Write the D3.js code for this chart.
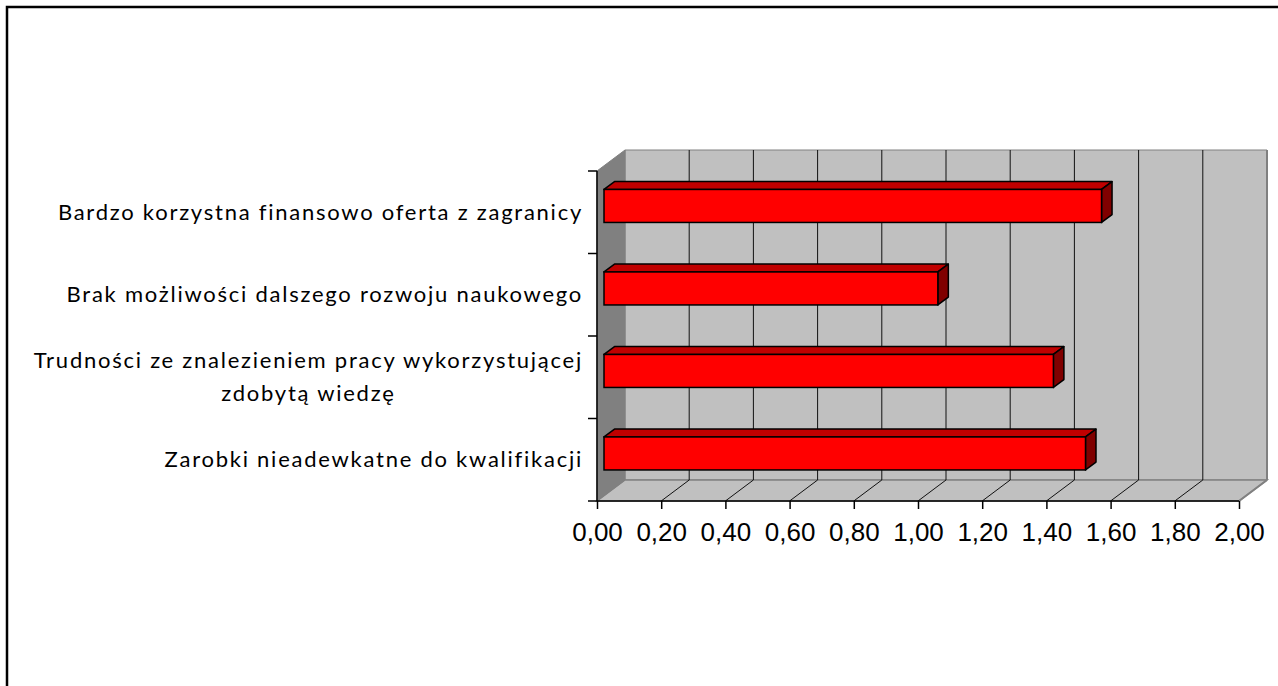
<!DOCTYPE html>
<html>
<head>
<meta charset="utf-8">
<script src="https://cdn.jsdelivr.net/npm/d3@7"></script>
<style>
  html, body { margin: 0; padding: 0; background: #fff; }
  svg { display: block; }
</style>
</head>
<body>
<div id="chart"></div>
<script>
// categories top to bottom, "\n" marks a line break in the label
var categories = [
  "Bardzo korzystna finansowo oferta z zagranicy",
  "Brak możliwości dalszego rozwoju naukowego",
  "Trudności ze znalezieniem pracy wykorzystującej\nzdobytą wiedzę",
  "Zarobki nieadewkatne do kwalifikacji"
];
var values = [1.55, 1.04, 1.40, 1.50];
var tickValues = [0, 0.2, 0.4, 0.6, 0.8, 1.0, 1.2, 1.4, 1.6, 1.8, 2.0];

var chartWidth = 1278,
    chartHeight = 686;

var svg = d3.select("#chart").append("svg")
    .attr("width", chartWidth)
    .attr("height", chartHeight);

// outer frame
svg.append("rect")
    .attr("x", 7).attr("y", 7)
    .attr("width", 1300).attr("height", 700)
    .attr("fill", "#fff")
    .attr("stroke", "#000")
    .attr("stroke-width", 2.5);

var plot = {left: 597, right: 1239, top: 171, bottom: 501},
    depth = {dx: 28, dy: -21};   // 3d depth of the walls

var x = d3.scaleLinear().domain([0, 2]).range([plot.left, plot.right]),
    y = d3.scaleBand().domain(categories).range([plot.top, plot.bottom])
          .paddingInner(0.6).paddingOuter(0.3);

var g = svg.append("g");

// back wall
g.append("polygon")
    .attr("points", [
      [x(0) + depth.dx, plot.top + depth.dy],
      [x(2) + depth.dx, plot.top + depth.dy],
      [x(2) + depth.dx, plot.bottom + depth.dy],
      [x(0) + depth.dx, plot.bottom + depth.dy]
    ].join(" "))
    .attr("fill", "#c0c0c0")
    .attr("stroke", "#808080")
    .attr("stroke-width", 1);

// floor
g.append("polygon")
    .attr("points", [
      [x(0), plot.bottom],
      [x(2), plot.bottom],
      [x(2) + depth.dx, plot.bottom + depth.dy],
      [x(0) + depth.dx, plot.bottom + depth.dy]
    ].join(" "))
    .attr("fill", "#c0c0c0")
    .attr("stroke", "#808080")
    .attr("stroke-width", 1.5);

// side wall
g.append("polygon")
    .attr("points", [
      [x(0), plot.top],
      [x(0) + depth.dx, plot.top + depth.dy],
      [x(0) + depth.dx, plot.bottom + depth.dy],
      [x(0), plot.bottom]
    ].join(" "))
    .attr("fill", "#808080")
    .attr("stroke", "#808080")
    .attr("stroke-width", 1);

// gridlines on wall and floor
var inner = tickValues.slice(1, -1);
g.selectAll(".wallgrid")
  .data(inner)
  .enter().append("line")
    .attr("class", "wallgrid")
    .attr("x1", function(d) { return x(d) + depth.dx; })
    .attr("x2", function(d) { return x(d) + depth.dx; })
    .attr("y1", plot.top + depth.dy)
    .attr("y2", plot.bottom + depth.dy)
    .attr("stroke", "#111")
    .attr("stroke-width", 1);

g.selectAll(".floorgrid")
  .data(inner)
  .enter().append("line")
    .attr("class", "floorgrid")
    .attr("x1", function(d) { return x(d); })
    .attr("x2", function(d) { return x(d) + depth.dx; })
    .attr("y1", plot.bottom)
    .attr("y2", plot.bottom + depth.dy)
    .attr("stroke", "#111")
    .attr("stroke-width", 1);

// right edges of the box
g.append("line")
    .attr("x1", x(2) + depth.dx).attr("x2", x(2) + depth.dx)
    .attr("y1", plot.top + depth.dy).attr("y2", plot.bottom + depth.dy)
    .attr("stroke", "#808080").attr("stroke-width", 2);
g.append("line")
    .attr("x1", x(2)).attr("x2", x(2) + depth.dx)
    .attr("y1", plot.bottom).attr("y2", plot.bottom + depth.dy)
    .attr("stroke", "#808080").attr("stroke-width", 2);

// bottom axis
var xAxis = d3.axisBottom(x)
    .tickValues(tickValues)
    .tickSize(8)
    .tickPadding(14)
    .tickFormat(function(d) { return d.toFixed(2).replace(".", ","); });

var ax = svg.append("g")
    .attr("transform", "translate(0," + plot.bottom + ")")
    .call(xAxis);
ax.select(".domain").attr("stroke", "#000").attr("stroke-width", 1.5)
    .attr("d", "M" + x(0) + ",0H" + x(2));
ax.selectAll(".tick line").attr("stroke", "#000").attr("stroke-width", 1.5);
ax.selectAll(".tick text")
    .attr("fill", "#000")
    .style("font-family", "'Liberation Sans', Arial, sans-serif")
    .style("font-size", "26px");

// left axis with ticks at category boundaries
var half = (y.step() - y.bandwidth()) / 2;
var bounds = categories.map(function(c) { return y(c) - half; })
    .concat([y(categories[categories.length - 1]) + y.bandwidth() + half]);

svg.append("line")
    .attr("x1", x(0)).attr("x2", x(0))
    .attr("y1", plot.top).attr("y2", plot.bottom)
    .attr("stroke", "#000").attr("stroke-width", 1.5);
svg.selectAll(".ytick")
  .data(bounds)
  .enter().append("line")
    .attr("class", "ytick")
    .attr("x1", x(0) - 9).attr("x2", x(0))
    .attr("y1", function(d) { return d; })
    .attr("y2", function(d) { return d; })
    .attr("stroke", "#000").attr("stroke-width", 1.5);

// bars (front at a quarter of the depth, 3/8 deep)
var bFront = {dx: depth.dx * 0.25, dy: depth.dy * 0.3},
    bDepth = {dx: depth.dx * 0.375, dy: depth.dy * 0.375};

var bars = svg.selectAll(".bar")
  .data(categories.map(function(c, i) { return {key: c, value: values[i]}; }))
  .enter().append("g")
    .attr("class", "bar");

function facePts(d) {
  var x0 = x(0) + bFront.dx,
      x1 = x(d.value) + bFront.dx,
      y0 = y(d.key) + bFront.dy,
      y1 = y0 + y.bandwidth();
  return {x0: x0, x1: x1, y0: y0, y1: y1};
}

bars.append("polygon")
    .attr("points", function(d) {
      var p = facePts(d);
      return [[p.x0, p.y0], [p.x1, p.y0],
              [p.x1 + bDepth.dx, p.y0 + bDepth.dy],
              [p.x0 + bDepth.dx, p.y0 + bDepth.dy]].join(" ");
    })
    .attr("fill", "#c00000")
    .attr("stroke", "#000").attr("stroke-width", 1.5)
    .attr("stroke-linejoin", "round");

bars.append("polygon")
    .attr("points", function(d) {
      var p = facePts(d);
      return [[p.x1, p.y0], [p.x1 + bDepth.dx, p.y0 + bDepth.dy],
              [p.x1 + bDepth.dx, p.y1 + bDepth.dy], [p.x1, p.y1]].join(" ");
    })
    .attr("fill", "#800000")
    .attr("stroke", "#000").attr("stroke-width", 1.5)
    .attr("stroke-linejoin", "round");

bars.append("rect")
    .attr("x", function(d) { return facePts(d).x0; })
    .attr("y", function(d) { return facePts(d).y0; })
    .attr("width", function(d) { return x(d.value) - x(0); })
    .attr("height", y.bandwidth())
    .attr("fill", "#ff0000")
    .attr("stroke", "#000").attr("stroke-width", 1.5);

// category labels, right aligned block, lines centred on each other
var labelRight = 583, lineH = 33;
categories.forEach(function(c) {
  var lines = c.split("\n"),
      cy = y(c) + y.bandwidth() / 2,
      t = svg.append("g").attr("class", "ylabel");
  var texts = lines.map(function(s, i) {
    return t.append("text")
      .attr("y", cy + (i - (lines.length - 1) / 2) * lineH)
      .attr("dy", "0.35em")
      .attr("text-anchor", "middle")
      .style("font-family", "Lato, 'Open Sans', sans-serif")
      .style("font-size", "22px")
      .style("letter-spacing", "1.75px")
      .attr("fill", "#000")
      .text(s);
  });
  var w = d3.max(texts, function(tx) { return tx.node().getComputedTextLength(); });
  texts.forEach(function(tx) { tx.attr("x", labelRight - w / 2); });
});
</script>
</body>
</html>
